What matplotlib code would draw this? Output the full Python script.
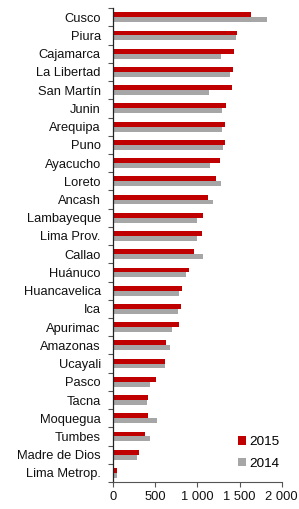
import matplotlib.pyplot as plt
import numpy as np
from matplotlib.ticker import FuncFormatter

plt.rcParams["font.family"] = ["Liberation Sans", "DejaVu Sans"]

regions = ["Cusco", "Piura", "Cajamarca", "La Libertad", "San Martín", "Junin",
           "Arequipa", "Puno", "Ayacucho", "Loreto", "Ancash", "Lambayeque",
           "Lima Prov.", "Callao", "Huánuco", "Huancavelica", "Ica", "Apurimac",
           "Amazonas", "Ucayali", "Pasco", "Tacna", "Moquegua", "Tumbes",
           "Madre de Dios", "Lima Metrop."]
v2015 = [1635, 1473, 1430, 1426, 1410, 1338, 1330, 1326, 1267, 1220, 1121, 1062,
         1054, 955, 895, 820, 800, 776, 626, 614, 511, 408, 408, 373, 301, 48]
v2014 = [1822, 1461, 1279, 1386, 1140, 1291, 1291, 1303, 1152, 1275, 1184, 990,
         994, 1069, 867, 784, 772, 697, 670, 614, 432, 400, 515, 432, 281, 48]

red = "#C00000"
gray = "#A6A6A6"
fs = 9.3

fig = plt.figure(figsize=(2.99, 5.09), dpi=100)
ax = fig.add_axes([0.379, 0.053, 0.563, 0.931])

n = len(regions)
y = np.arange(n)
h = 0.27
ax.barh(y - h / 2, v2015, height=h, color=red, label="2015")
ax.barh(y + h / 2, v2014, height=h, color=gray, label="2014")

ax.set_ylim(n - 0.5, -0.5)
ax.set_xlim(0, 2000)
ax.set_yticks(y)
ax.set_yticklabels(regions, fontsize=fs, color="#111111")
ax.set_yticks(np.arange(-0.5, n, 1), minor=True)
ax.tick_params(axis="y", which="major", length=0, pad=9)
ax.tick_params(axis="y", which="minor", length=3.5, color="#555555", width=0.8)

ax.set_xticks([0, 500, 1000, 1500, 2000])
ax.xaxis.set_major_formatter(FuncFormatter(lambda v, p: f"{int(v):,}".replace(",", " ")))
ax.tick_params(axis="x", labelsize=fs, labelcolor="#111111", length=3.5,
               color="#555555", width=0.8, pad=3)

for s in ["top", "right"]:
    ax.spines[s].set_visible(False)
ax.spines["left"].set_color("#222222")
ax.spines["bottom"].set_color("#555555")
ax.spines["left"].set_linewidth(0.9)
ax.spines["bottom"].set_linewidth(0.8)

fig.legend(*ax.get_legend_handles_labels(), loc="upper left",
           bbox_to_anchor=(0.772, 0.156), frameon=False, borderpad=0,
           fontsize=fs + 0.4, handlelength=0.6, handleheight=0.6,
           handletextpad=0.25, labelspacing=0.7)

fig.savefig("out.png", dpi=100)
